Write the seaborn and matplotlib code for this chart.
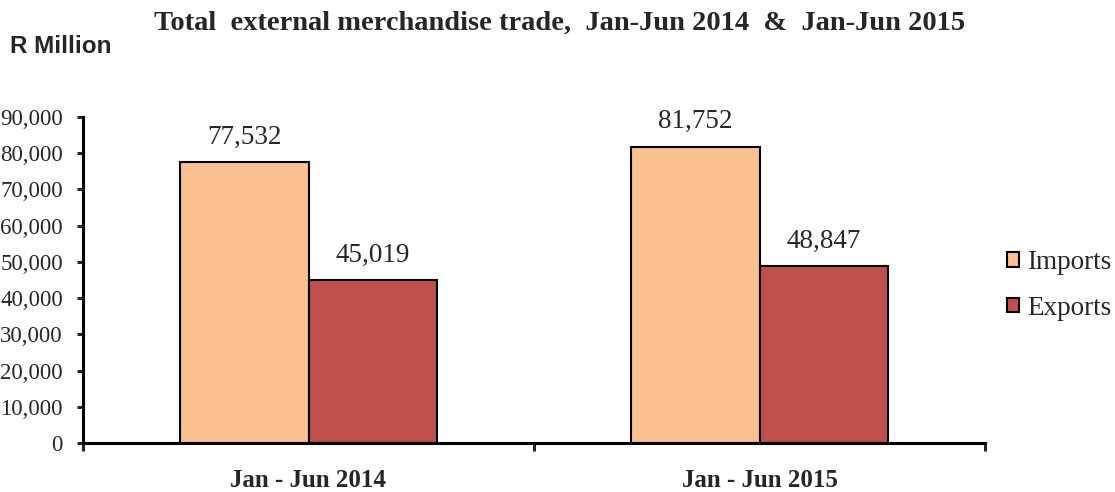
import matplotlib
matplotlib.use("Agg")
import matplotlib.pyplot as plt
import seaborn as sns
import pandas as pd
from matplotlib.ticker import FuncFormatter, FixedLocator
from matplotlib.patches import Patch

periods = ["Jan - Jun 2014", "Jan - Jun 2015"]
series = ["Imports", "Exports"]
imports = [77532, 81752]
exports = [45019, 48847]

df = pd.DataFrame({
    "period": periods * 2,
    "flow": ["Imports"] * 2 + ["Exports"] * 2,
    "value": imports + exports,
})
colors = {"Imports": "#FAC090", "Exports": "#C0504D"}

sns.set_style("white")
plt.rcParams["font.family"] = ["Liberation Serif", "DejaVu Serif"]

fig = plt.figure(figsize=(11.15, 4.92), dpi=100)
ax = fig.add_axes([83 / 1115, 49 / 492, 902 / 1115, 326 / 492])

sns.barplot(data=df, x="period", y="value", hue="flow", order=periods,
            hue_order=series, palette=colors, width=0.57, edgecolor="black",
            linewidth=1.5, saturation=1, ax=ax, legend=False)

ax.set_xlim(-0.5, 1.5)
ax.set_ylim(0, 90000)
ax.set_yticks(range(0, 90001, 10000))
ax.yaxis.set_major_formatter(FuncFormatter(lambda v, p: f"{int(v):,}"))
ax.set_xlabel("")
ax.set_ylabel("")

for s in ["top", "right"]:
    ax.spines[s].set_visible(False)
for s in ["left", "bottom"]:
    ax.spines[s].set_linewidth(2.2)
    ax.spines[s].set_color("black")

ax.tick_params(axis="y", which="major", direction="out", length=4.5, width=2.2,
               labelsize=16.5, pad=10, left=True)
ax.tick_params(axis="x", which="major", length=0, pad=19)
ax.xaxis.set_minor_locator(FixedLocator([-0.5, 0.5, 1.5]))
ax.tick_params(axis="x", which="minor", direction="out", length=6, width=2.2,
               bottom=True)
for lbl in ax.get_xticklabels():
    lbl.set_fontweight("bold")
    lbl.set_fontsize(18)

for cont in ax.containers:
    ax.bar_label(cont, labels=[f"{v:,.0f}" for v in cont.datavalues],
                 padding=9, fontsize=19.5)

handles = [Patch(facecolor=colors[s], edgecolor="black", linewidth=1.5, label=s)
           for s in series]
fig.legend(handles=handles, loc="center left", bbox_to_anchor=(0.903, 0.42),
           frameon=False, fontsize=19.5, handlelength=0.45, handleheight=0.45,
           handletextpad=0.3, labelspacing=0.75, borderpad=0, borderaxespad=0)

fig.text(0.502, 0.953, "Total  external merchandise trade,  Jan-Jun 2014  &  Jan-Jun 2015",
         ha="center", va="center", fontsize=20.5, fontweight="bold")
fig.text(0.009, 0.905, "R Million", ha="left", va="center", fontsize=17.5,
         fontweight="bold", family=["Liberation Sans", "DejaVu Sans"])

fig.savefig("out.png", dpi=100)
